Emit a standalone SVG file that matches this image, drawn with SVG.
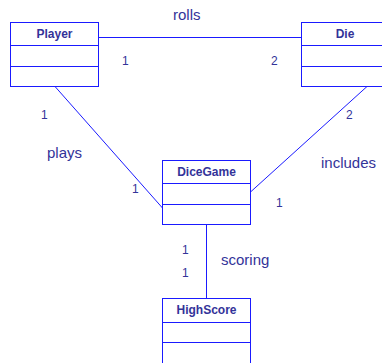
<svg xmlns="http://www.w3.org/2000/svg" width="382" height="363" viewBox="0 0 382 363">
<style>
.box{fill:#ffffff;stroke:#1a1aff;stroke-width:1}
.div{stroke:#1a1aff;stroke-width:1}
.name{font-family:"Liberation Sans",Arial,sans-serif;font-weight:bold;font-size:12px;fill:#333399;text-anchor:middle}
.lbl{font-family:"Liberation Sans",Arial,sans-serif;font-size:15px;fill:#333399}
.mult{font-family:"Liberation Sans",Arial,sans-serif;font-size:12px;fill:#333399}
.con{stroke:#1a1aff;stroke-width:1;fill:none}
</style>
<rect width="382" height="363" fill="#ffffff"/>
<g id="connectors">
<line class="con" x1="98.5" y1="37.5" x2="301.5" y2="37.5"/>
<line class="con" x1="55" y1="86.5" x2="162.5" y2="208"/>
<line class="con" x1="367" y1="86.5" x2="250.5" y2="192"/>
<line class="con" x1="206.5" y1="224.5" x2="206.5" y2="298.5"/>
<text class="lbl" x="173" y="20">rolls</text>
<text class="mult" x="122" y="65">1</text>
<text class="mult" x="271" y="65">2</text>
<text class="mult" x="41" y="119">1</text>
<text class="lbl" x="47" y="158">plays</text>
<text class="mult" x="132" y="193">1</text>
<text class="mult" x="346" y="119">2</text>
<text class="lbl" x="321" y="168">includes</text>
<text class="mult" x="276" y="207">1</text>
<text class="mult" x="182" y="254">1</text>
<text class="mult" x="182" y="277">1</text>
<text class="lbl" x="221" y="265">scoring</text>
</g>
<g id="Player">
<rect class="box" x="10.5" y="22.5" width="88" height="64"/>
<line class="div" x1="10.5" y1="45.5" x2="98.5" y2="45.5"/>
<line class="div" x1="10.5" y1="66.5" x2="98.5" y2="66.5"/>
<text class="name" x="54.5" y="38">Player</text>
</g>
<g id="Die">
<rect class="box" x="301.5" y="22.5" width="88" height="64"/>
<line class="div" x1="301.5" y1="45.5" x2="389.5" y2="45.5"/>
<line class="div" x1="301.5" y1="66.5" x2="389.5" y2="66.5"/>
<text class="name" x="345" y="38">Die</text>
</g>
<g id="DiceGame">
<rect class="box" x="162.5" y="160.5" width="88" height="64"/>
<line class="div" x1="162.5" y1="183.5" x2="250.5" y2="183.5"/>
<line class="div" x1="162.5" y1="204.5" x2="250.5" y2="204.5"/>
<text class="name" x="206.5" y="176">DiceGame</text>
</g>
<g id="HighScore">
<rect class="box" x="162.5" y="298.5" width="88" height="66"/>
<line class="div" x1="162.5" y1="322.5" x2="250.5" y2="322.5"/>
<line class="div" x1="162.5" y1="342.5" x2="250.5" y2="342.5"/>
<text class="name" x="206.5" y="314">HighScore</text>
</g>
</svg>
